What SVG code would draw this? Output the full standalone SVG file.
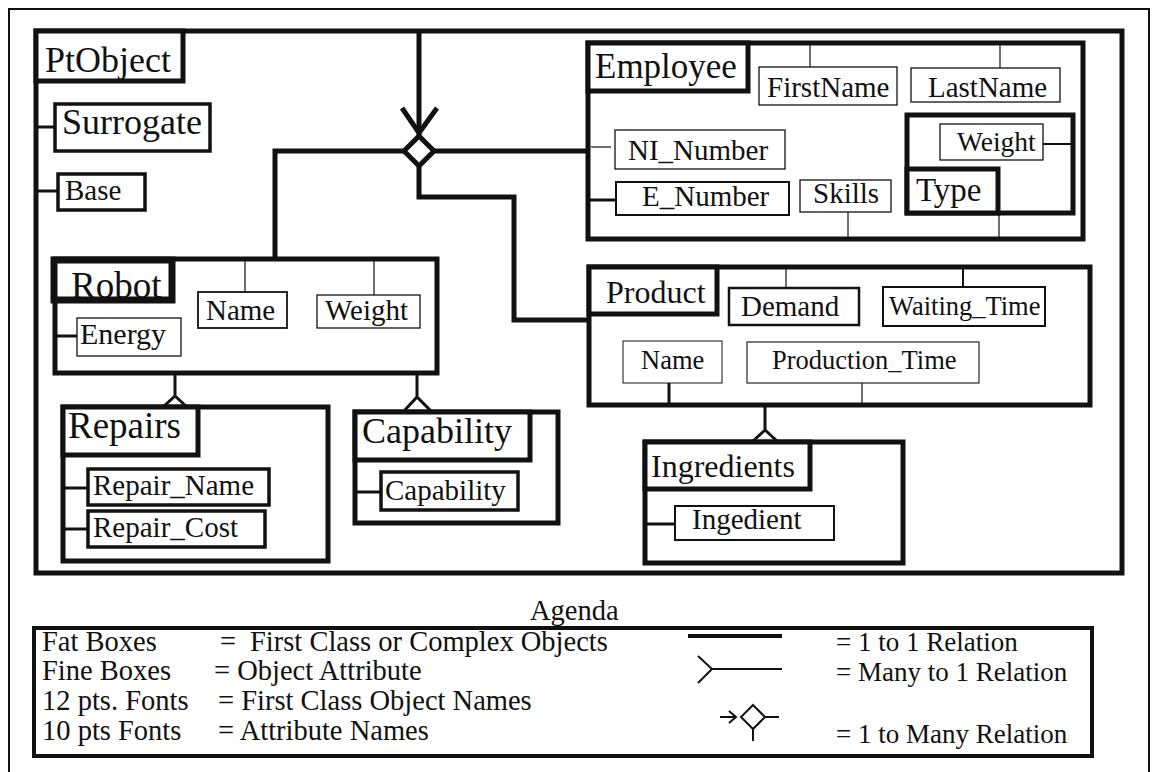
<svg xmlns="http://www.w3.org/2000/svg" width="1153" height="772" viewBox="0 0 1153 772">
  <style>
    text { font-family: "Liberation Serif", "Times New Roman", serif; fill: #111; }
    .obj { font-size: 35px; }
    .att { font-size: 29px; }
    .leg { font-size: 28.5px; }
    .key { font-size: 27px; }
    .fat { fill: #fff; stroke: #111; stroke-width: 5; }
    .lbl { fill: #fff; stroke: #111; stroke-width: 5; }
    .mid { fill: #fff; stroke: #111; stroke-width: 3.5; }
    .thin { fill: #fff; stroke: #111; stroke-width: 1.3; }
    .link { fill: none; stroke: #111; stroke-width: 5; }
    .tie { fill: none; stroke: #111; stroke-width: 3; }
    .tie1 { fill: none; stroke: #111; stroke-width: 1.2; }
    .crow { fill: none; stroke: #111; stroke-width: 3; stroke-linejoin: miter; }
  </style>

  <!-- page frame -->
  <path d="M9,772 V9 H1149 V772" fill="none" stroke="#111" stroke-width="2"/>

  <!-- PtObject: root complex object -->
  <g id="ptobject">
    <rect class="fat" x="36" y="31" width="1086" height="542"/>
    <rect class="lbl" x="36" y="31" width="147" height="50"/>
    <text class="obj" x="45" y="72" style="font-size:36px">PtObject</text>
  </g>
  <g id="surrogate">
    <rect class="mid" x="55" y="104" width="155" height="47"/>
    <text class="obj" x="62" y="134" style="font-size:36px">Surrogate</text>
  </g>
  <g id="base">
    <rect class="mid" x="58" y="174" width="87" height="36"/>
    <text class="att" x="65" y="200">Base</text>
  </g>

  <!-- Employee -->
  <g id="employee">
    <rect class="fat" x="588" y="43" width="495" height="196"/>
    <rect class="lbl" x="588" y="43" width="160" height="48"/>
    <text class="obj" x="595" y="78">Employee</text>
  </g>
  <g id="firstname">
    <rect class="thin" x="759" y="67" width="138" height="38"/>
    <text class="att" x="767" y="97">FirstName</text>
  </g>
  <g id="lastname">
    <rect class="thin" x="911" y="68" width="149" height="34"/>
    <text class="att" x="928" y="97">LastName</text>
  </g>
  <g id="ni-number">
    <rect class="thin" x="615" y="130" width="170" height="39"/>
    <text class="att" x="628" y="160">NI_Number</text>
  </g>
  <g id="e-number">
    <rect class="thin" x="616" y="182" width="173" height="33" style="stroke-width:2"/>
    <text class="att" x="642" y="206">E_Number</text>
  </g>
  <g id="skills">
    <rect class="thin" x="800" y="180" width="91" height="32"/>
    <text class="att" x="813" y="203">Skills</text>
  </g>
  <g id="type">
    <rect class="fat" x="907" y="115" width="166" height="98"/>
    <rect class="lbl" x="907" y="169" width="91" height="44"/>
    <text class="obj" x="916" y="201" style="font-size:33px">Type</text>
  </g>
  <g id="type-weight">
    <rect class="thin" x="940" y="124" width="103" height="36"/>
    <text class="att" x="957" y="151" style="font-size:27.5px">Weight</text>
  </g>

  <!-- Robot -->
  <g id="robot">
    <rect class="fat" x="55" y="259" width="382" height="114"/>
    <rect class="lbl" x="54" y="260" width="118" height="40" style="stroke-width:7"/>
    <text class="obj" x="71" y="298" style="font-size:37px">Robot</text>
  </g>
  <g id="robot-name">
    <rect class="thin" x="198" y="292" width="89" height="36" style="stroke-width:1.8"/>
    <text class="att" x="206" y="320">Name</text>
  </g>
  <g id="robot-weight">
    <rect class="thin" x="317" y="295" width="103" height="33"/>
    <text class="att" x="325" y="320">Weight</text>
  </g>
  <g id="energy">
    <rect class="thin" x="77" y="318" width="104" height="38"/>
    <text class="att" x="80" y="344" style="font-size:30px">Energy</text>
  </g>

  <!-- Repairs -->
  <g id="repairs">
    <rect class="fat" x="63" y="407" width="265" height="154"/>
    <rect class="lbl" x="63" y="407" width="135" height="48"/>
    <text class="obj" x="68" y="438" style="font-size:37px">Repairs</text>
  </g>
  <g id="repair-name">
    <rect class="mid" x="88" y="469" width="181" height="36"/>
    <text class="att" x="93" y="495">Repair_Name</text>
  </g>
  <g id="repair-cost">
    <rect class="mid" x="88" y="511" width="177" height="36"/>
    <text class="att" x="93" y="537">Repair_Cost</text>
  </g>

  <!-- Capability -->
  <g id="capability">
    <rect class="fat" x="355" y="412" width="203" height="111"/>
    <rect class="lbl" x="355" y="412" width="175" height="48"/>
    <text class="obj" x="362" y="443" style="font-size:36px">Capability</text>
  </g>
  <g id="capability-attr">
    <rect class="mid" x="381" y="472" width="137" height="38"/>
    <text class="att" x="385" y="500">Capability</text>
  </g>

  <!-- Product -->
  <g id="product">
    <rect class="fat" x="589" y="267" width="501" height="138"/>
    <rect class="lbl" x="589" y="267" width="128" height="47"/>
    <text class="obj" x="606" y="303" style="font-size:32px">Product</text>
  </g>
  <g id="demand">
    <rect class="mid" x="729" y="288" width="130" height="37" style="stroke-width:2.5"/>
    <text class="att" x="741" y="316">Demand</text>
  </g>
  <g id="waiting-time">
    <rect class="mid" x="883" y="287" width="162" height="39" style="stroke-width:2"/>
    <text class="att" x="889" y="315" style="font-size:26.5px">Waiting_Time</text>
  </g>
  <g id="product-name">
    <rect class="thin" x="623" y="341" width="99" height="42" style="stroke-width:1"/>
    <text class="att" x="641" y="369" style="font-size:26.5px">Name</text>
  </g>
  <g id="production-time">
    <rect class="thin" x="747" y="342" width="232" height="41" style="stroke-width:1.1"/>
    <text class="att" x="772" y="369" style="font-size:26.5px">Production_Time</text>
  </g>

  <!-- Ingredients -->
  <g id="ingredients">
    <rect class="fat" x="645" y="442" width="258" height="121"/>
    <rect class="lbl" x="645" y="442" width="165" height="47"/>
    <text class="obj" x="651" y="477" style="font-size:32px">Ingredients</text>
  </g>
  <g id="ingedient">
    <rect class="thin" x="675" y="506" width="159" height="34" style="stroke-width:2"/>
    <text class="att" x="692" y="529">Ingedient</text>
  </g>

  <!-- relations and attribute ties -->
  <g id="connectors">
    <!-- 1 to many hub -->
    <path class="link" d="M419,31 V136"/>
    <path class="link" d="M402,108 L419,133 L437,108"/>
    <path class="link" d="M419,136 L434,151 L419,166 L404,151 Z" fill="#fff"/>
    <path class="link" d="M434,151 H588"/>
    <path class="link" d="M404,151 H275 V259"/>
    <path class="link" d="M419,166 V197 H514 V320 H589"/>

    <!-- many to 1 (crow's feet) -->
    <path class="crow" d="M175,373 V396 M163,407 L175,396 L187,407"/>
    <path class="crow" d="M417,373 V397 M404,411 L417,397 L431,411"/>
    <path class="crow" d="M765,405 V430 M753,441 L765,430 L777,441"/>

    <!-- PtObject ties -->
    <path class="tie" d="M36,127 H55"/>
    <path class="tie" d="M36,191 H58"/>

    <!-- Employee ties -->
    <path class="tie1" d="M810,43 V67"/>
    <path class="tie1" d="M1000,43 V68"/>
    <path class="tie1" d="M591,147 H611"/>
    <path class="tie" d="M588,200 H616"/>
    <path class="tie1" d="M848,212 V239"/>
    <path class="tie1" d="M999,213 V239"/>
    <path class="tie" d="M1043,144 H1073" style="stroke-width:2"/>

    <!-- Robot ties -->
    <path class="tie1" d="M245,259 V292"/>
    <path class="tie1" d="M374,259 V295"/>
    <path class="tie" d="M55,336 H77"/>

    <!-- Repairs / Capability ties -->
    <path class="tie" d="M63,488 H88"/>
    <path class="tie" d="M63,529 H88"/>
    <path class="tie" d="M355,492 H381"/>

    <!-- Product / Ingredients ties -->
    <path class="tie1" d="M786,267 V288"/>
    <path class="tie" d="M963,267 V287" style="stroke-width:2"/>
    <path class="tie" d="M669,383 V405"/>
    <path class="tie1" d="M862,383 V405"/>
    <path class="tie" d="M645,524 H675"/>
  </g>

  <!-- key -->
  <g id="legend">
    <text class="leg" x="530" y="620">Agenda</text>
    <rect x="34" y="628" width="1058" height="128" fill="none" stroke="#111" stroke-width="4"/>
    <text class="leg" x="42" y="651">Fat Boxes</text>
    <text class="leg" x="220" y="651">=</text>
    <text class="leg" x="250" y="651">First Class or Complex Objects</text>
    <text class="leg" x="42" y="680">Fine Boxes</text>
    <text class="leg" x="214" y="680">= Object Attribute</text>
    <text class="leg" x="42" y="710">12 pts. Fonts</text>
    <text class="leg" x="218" y="710">= First Class Object Names</text>
    <text class="leg" x="42" y="740">10 pts Fonts</text>
    <text class="leg" x="218" y="740">= Attribute Names</text>

    <path d="M688,636 H782" fill="none" stroke="#111" stroke-width="4"/>
    <path d="M698,656 L712,669 L698,683 M712,669 H782" fill="none" stroke="#111" stroke-width="2"/>
    <path d="M720,717 H735 M729,711 L736,717 L729,723" fill="none" stroke="#111" stroke-width="2"/>
    <path d="M753,705 L765,717 L753,729 L741,717 Z M765,717 H779 M753,729 V741" fill="none" stroke="#111" stroke-width="2"/>
    <text class="key" x="836" y="651">= 1 to 1 Relation</text>
    <text class="key" x="836" y="681">= Many to 1 Relation</text>
    <text class="key" x="836" y="743">= 1 to Many Relation</text>
  </g>
</svg>
